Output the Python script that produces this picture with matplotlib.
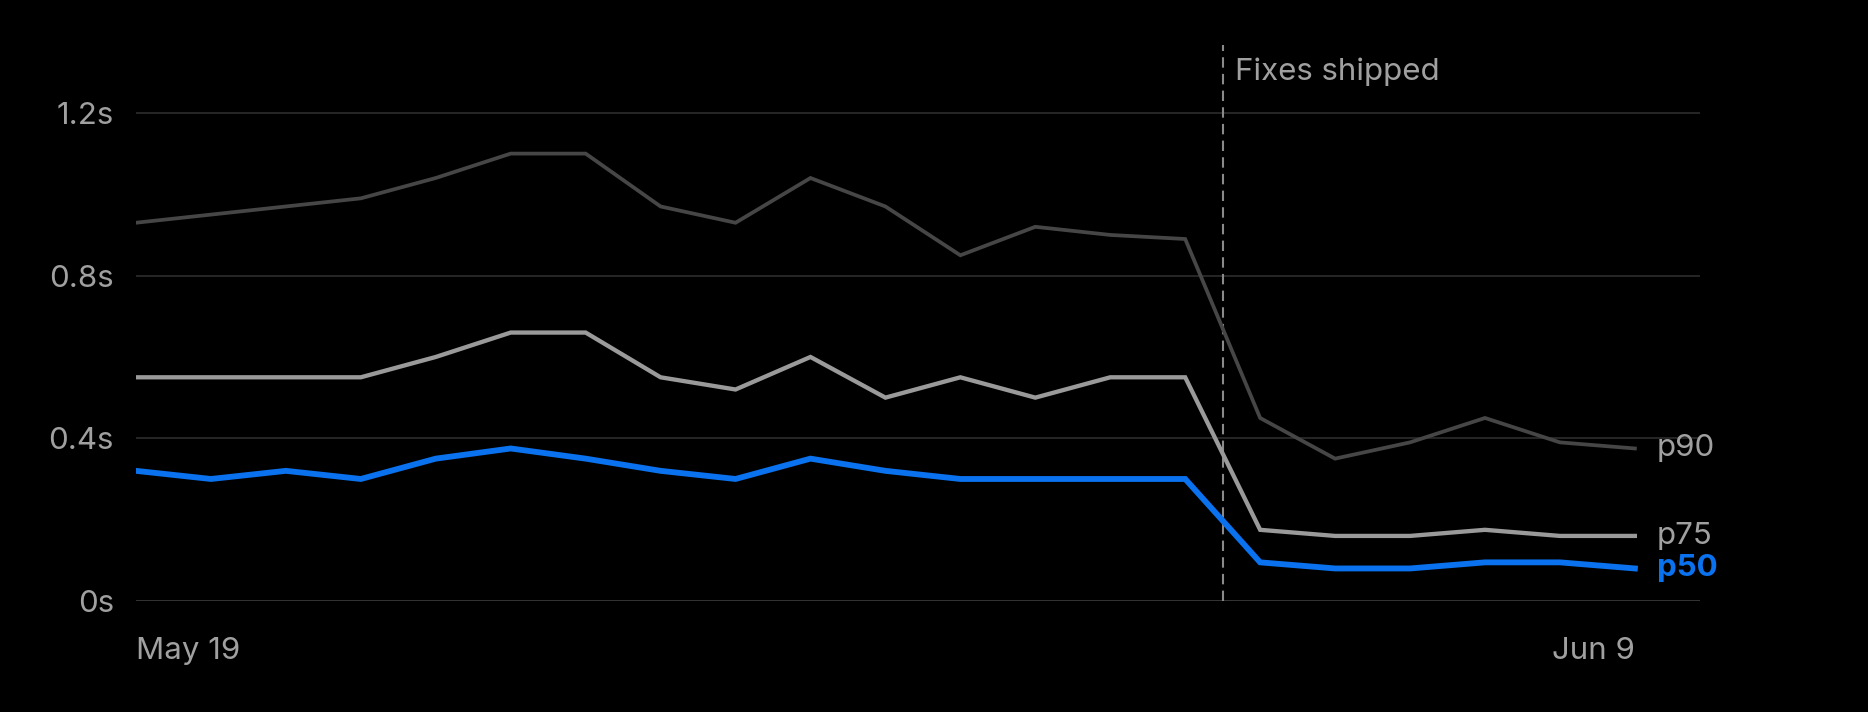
import matplotlib.pyplot as plt

plt.rcParams['font.family'] = ['Inter', 'DejaVu Sans']

# daily latency percentiles, seconds
days = list(range(21))
p90 = [0.93, 0.95, 0.97, 0.99, 1.04, 1.10, 1.10, 0.97, 0.93, 1.04, 0.97,
       0.85, 0.92, 0.90, 0.89, 0.45, 0.35, 0.39, 0.45, 0.39, 0.375]
p75 = [0.55, 0.55, 0.55, 0.55, 0.60, 0.66, 0.66, 0.55, 0.52, 0.60, 0.50,
       0.55, 0.50, 0.55, 0.55, 0.175, 0.16, 0.16, 0.175, 0.16, 0.16]
p50 = [0.32, 0.30, 0.32, 0.30, 0.35, 0.375, 0.35, 0.32, 0.30, 0.35, 0.32,
       0.30, 0.30, 0.30, 0.30, 0.095, 0.08, 0.08, 0.095, 0.095, 0.08]
y_ticks = [0, 0.4, 0.8, 1.2]
y_labels = ['0s', '0.4s', '0.8s', '1.2s']
x_labels = {0: 'May 19', 20: 'Jun 9'}
fix_day = 14.5

bg = '#000000'
text_col = '#a0a0a0'
blue = '#0a72ef'
fs = 22.5

fig = plt.figure(figsize=(18.68, 7.12), dpi=100, facecolor=bg)
ax = fig.add_axes([0.0728, 0.1559, 0.8373, 0.7809])
ax.set_facecolor(bg)

for y in y_ticks:
    ax.axhline(y, color='#3a3a3a' if y == 0 else '#2a2a2a',
               lw=2 if y == 0 else 1.3, zorder=1)

ax.plot(days, p90, color='#464646', lw=2.7, zorder=3, solid_joinstyle='miter')
ax.plot(days, p75, color='#9a9a9a', lw=3.1, zorder=4, solid_joinstyle='miter')
ax.plot(days, p50, color=blue, lw=4.2, zorder=5, solid_joinstyle='miter')

ax.vlines(fix_day, 0, 1.367, colors='#8a8a8a', lw=1.5,
          linestyles=(0, (5, 3)), zorder=2)
ax.text(fix_day + 0.16, 1.28, 'Fixes shipped', color=text_col,
        fontsize=fs, va='baseline', ha='left')

# series labels at line ends
ends = [(p90, 'p90', text_col, 'normal'),
        (p75, 'p75', text_col, 'normal'),
        (p50, 'p50', blue, 'bold')]
for vals, name, col, wt in ends:
    ax.annotate(name, xy=(days[-1], vals[-1]), xytext=(22, 0),
                textcoords='offset pixels', color=col, fontsize=fs,
                fontweight=wt, va='center', ha='left', annotation_clip=False)

ax.set_xlim(0, 20.87)
ax.set_ylim(0, 1.367)
ax.set_yticks(y_ticks)
ax.set_yticklabels(y_labels)
ax.set_xticks(list(x_labels.keys()))
ax.set_xticklabels(list(x_labels.values()))
xt = ax.get_xticklabels()
xt[0].set_ha('left')
xt[-1].set_ha('right')

ax.tick_params(axis='both', length=0, colors=text_col, labelsize=fs)
ax.tick_params(axis='y', pad=16)
ax.tick_params(axis='x', pad=26)
for s in ax.spines.values():
    s.set_visible(False)

fig.savefig('out.png', dpi=100, facecolor=bg)
